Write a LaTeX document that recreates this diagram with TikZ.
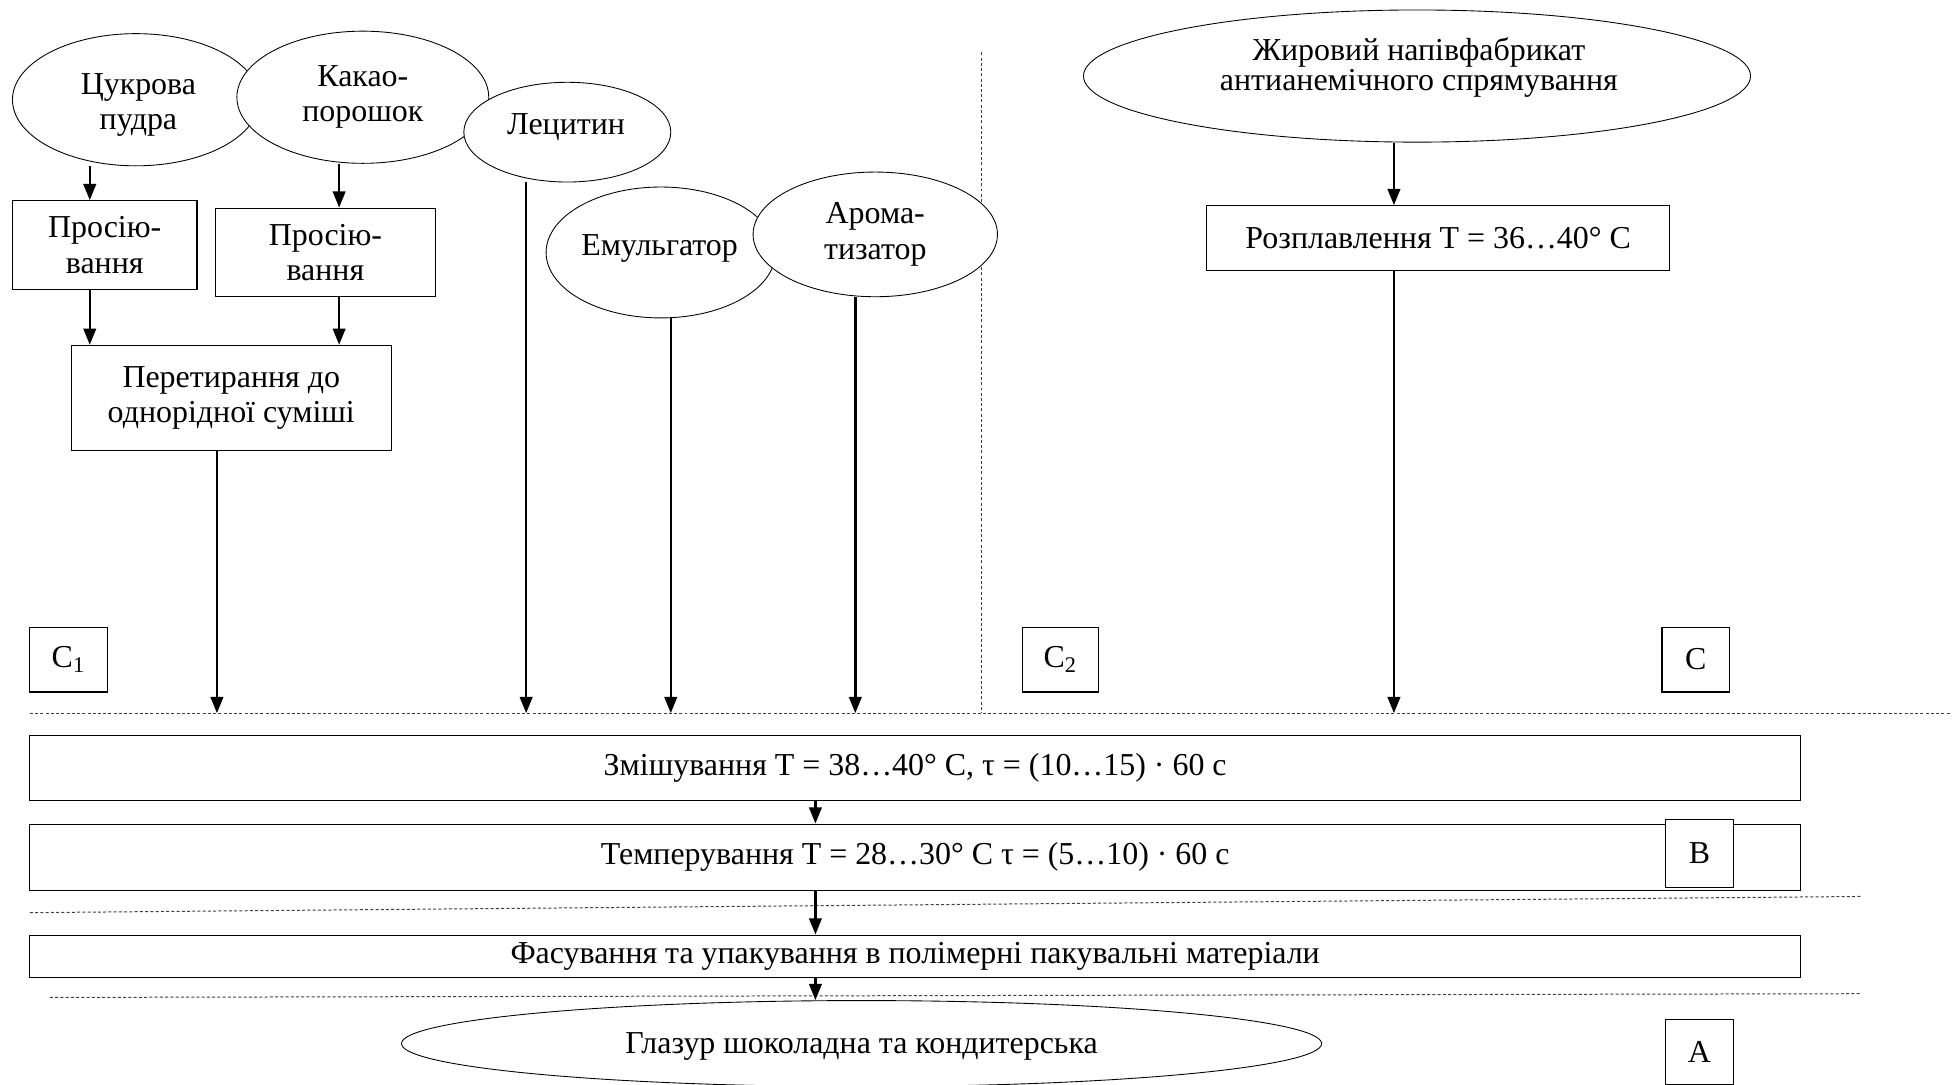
\documentclass[tikz,border=0pt]{standalone}
\usepackage{fontspec}
\setmainfont{Liberation Serif}
\usetikzlibrary{shapes.geometric,arrows.meta}

\begin{document}
\begin{tikzpicture}[x=0.5pt,y=-0.5pt,
  every node/.style={font=\fontsize{12.8}{14.2}\selectfont, align=center, inner sep=0pt},
  oval/.style={ellipse, draw, fill=white, line width=0.35pt},
  procbox/.style={rectangle, draw, fill=white, line width=0.45pt},
  tagbox/.style={rectangle, draw, fill=white, line width=0.45pt,
    minimum width=27pt, minimum height=26pt},
  arr/.style={line width=1pt, -{Triangle[length=6.5pt,width=5pt]}},
  sepline/.style={line width=0.4pt, dash pattern=on 1.2pt off 0.9pt, black!75}]
\useasboundingbox (0,0) rectangle (1568,870);
\clip (0,0) rectangle (1568,870);
\fill[white] (0,0) rectangle (1568,870);

% stage separators
\draw[sepline] (787,42) -- (787,572);
\draw[sepline] (24,572) -- (1565,572);
\draw[sepline] (24,732) -- (1493,719);
\draw[sepline] (40,800) -- (1493,797);

% columns of the connectors and the mixing level
\coordinate (c72) at (72,0);
\coordinate (c272) at (272,0);
\coordinate (c174) at (174,0);
\coordinate (c422) at (422,0);
\coordinate (c538) at (538,0);
\coordinate (c686) at (686,0);
\coordinate (c1118) at (1118,0);
\coordinate (c654) at (654,0);
\coordinate (mixline) at (0,572);

% raw materials
\node[oval, minimum width=99pt, minimum height=53pt] (suc) at (109,80) {};
\node (suctxt) at (111,84) {Цукрова\\пудра};
\node[oval, minimum width=101pt, minimum height=53pt] (kak) at (291,78) {Какао-\\порошок};
\node[oval, minimum width=83pt, minimum height=40pt] (lec) at (455,106) {};
\node (lectxt) at (454,102) {Лецитин};
\node[oval, minimum width=92pt, minimum height=52.5pt] (emu) at (530,202.5) {};
\node (emutxt) at (529,199) {Емульгатор};
\node[oval, minimum width=98pt, minimum height=50pt] (aro) at (702,188) {Арома-\\тизатор};
\node[oval, minimum width=267.5pt, minimum height=53pt] (fat) at (1136.5,61) {};
\node[font=\fontsize{12.8}{10.5}\selectfont] (fattxt) at (1138,54)
  {Жировий напівфабрикат\\антианемічного спрямування};

% preparation steps
\node[procbox, minimum width=74pt, minimum height=35.5pt] (pr1) at (84,196.5) {Просію-\\вання};
\node[procbox, minimum width=88pt, minimum height=35.5pt] (pr2) at (261,202.5) {Просію-\\вання};
\node[procbox, minimum width=128.5pt, minimum height=42pt] (per) at (185.5,319) {Перетирання до\\однорідної суміші};
\node[procbox, minimum width=185.5pt, minimum height=26pt] (roz) at (1153.5,191) {Розплавлення T = 36…40° C};

% stage tags
\node[tagbox, minimum width=31pt] (tc1) at (55,529) {C\textsubscript{1}};
\node[tagbox, minimum width=30.5pt] (tc2) at (850.5,529) {C\textsubscript{2}};
\node[tagbox] (tc) at (1360,529) {C};

% main line
\node[procbox, minimum width=710pt, minimum height=26pt] (mix) at (734,616) {Змішування T = 38…40° C, τ = (10…15) · 60 с};
\node[procbox, minimum width=710pt, minimum height=26.5pt] (tem) at (734,687.5) {Темперування T = 28…30° C τ = (5…10) · 60 с};
\node[tagbox, minimum height=27.5pt] (tb) at (1363,684.5) {B};
\node[procbox, minimum width=710pt, minimum height=17pt] (fas) at (734,767) {Фасування та упакування в полімерні пакувальні матеріали};
\node[oval, minimum width=369pt, minimum height=34.5pt] (glz) at (691,837) {};
\node (glztxt) at (691,839) {Глазур шоколадна та кондитерська};
\node[tagbox] (ta) at (1363,844) {A};

% connectors
\draw[arr] (suc.south -| c72) -- (pr1.north -| c72);
\draw[arr] (kak.south -| c272) -- (pr2.north -| c272);
\draw[arr] (pr1.south -| c72) -- (per.north -| c72);
\draw[arr] (pr2.south -| c272) -- (per.north -| c272);
\draw[arr] (per.south -| c174) -- (c174 |- mixline);
\draw[arr] (lec.south -| c422) -- (c422 |- mixline);
\draw[arr] (emu.south -| c538) -- (c538 |- mixline);
\draw[arr] (aro.south -| c686) -- (c686 |- mixline);
\draw[arr] (fat.south -| c1118) -- (roz.north -| c1118);
\draw[arr] (roz.south -| c1118) -- (c1118 |- mixline);
\draw[arr] (mix.south -| c654) -- (tem.north -| c654);
\draw[arr] (tem.south -| c654) -- (fas.north -| c654);
\draw[arr] (fas.south -| c654) -- (glz.north -| c654);
\end{tikzpicture}
\end{document}
